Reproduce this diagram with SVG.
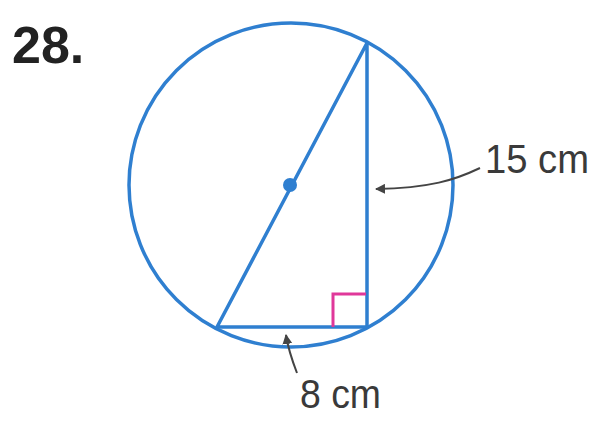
<svg xmlns="http://www.w3.org/2000/svg" width="594" height="425" viewBox="0 0 594 425">
<defs>
<style>
.blue{fill:none;stroke:#2f7fd0;stroke-width:3.5;stroke-linejoin:round}
.lbl{font-family:"Liberation Sans",Arial,sans-serif;font-size:40px;fill:#3a3a3a}
.lead{fill:none;stroke:#444;stroke-width:2}
</style>
<marker id="ah" viewBox="0 0 10 10" refX="9" refY="5" markerWidth="5" markerHeight="5" orient="auto" markerUnits="strokeWidth">
<path d="M0,0 L10,5 L0,10 Z" fill="#444"/>
</marker>
</defs>
<rect width="594" height="425" fill="#fff"/>
<text x="12" y="63" font-family="'Liberation Sans',Arial,sans-serif" font-weight="bold" font-size="52" fill="#222">28.</text>
<g id="circle">
<circle cx="291" cy="185" r="162" class="blue"/>
<circle cx="290" cy="185" r="7" fill="#2f7fd0"/>
</g>
<g id="triangle">
<path d="M367,43 L217,327 L367,327 Z" class="blue"/>
<path d="M333,327 L333,294 L366,294" fill="none" stroke="#e0389a" stroke-width="3"/>
</g>
<g id="connectors">
<path d="M480,168 C455,180 430,188 376,189" class="lead" marker-end="url(#ah)"/>
<path d="M297,373 C292,360 288,348 286,335" class="lead" marker-end="url(#ah)"/>
</g>
<g id="labels">
<text x="485" y="173" class="lbl" textLength="104" lengthAdjust="spacingAndGlyphs">15 cm</text>
<text x="300" y="408" class="lbl" textLength="81" lengthAdjust="spacingAndGlyphs">8 cm</text>
</g>
</svg>
